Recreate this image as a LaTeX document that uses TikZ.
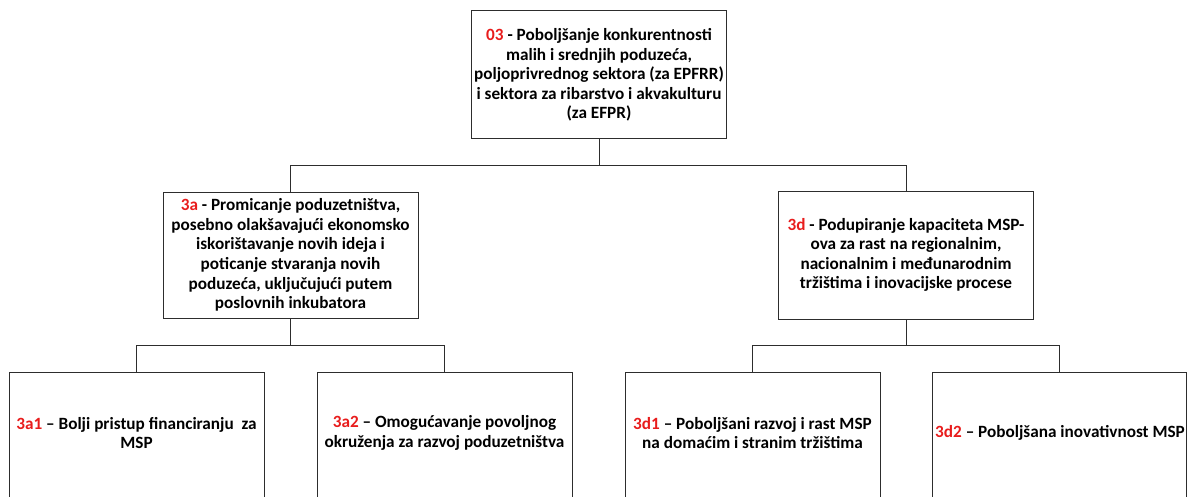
\documentclass[tikz,border=0pt]{standalone}
\usepackage{fontspec}
\setmainfont{Carlito}
\definecolor{codered}{RGB}{232,28,28}
\definecolor{lineclr}{RGB}{45,45,45}
\begin{document}
\begin{tikzpicture}[x=1pt,y=-1pt,
  box/.style={draw=lineclr, line width=1pt, rectangle, minimum width=255pt, inner sep=0pt},
  txt/.style={align=center, font=\bfseries\fontsize{17.2}{19.6}\selectfont, inner sep=0pt},
  conn/.style={draw=lineclr, line width=1pt}]
\useasboundingbox (0,0) rectangle (1188,496);
\clip (0,0) rectangle (1188,496);
% top
\node[box, minimum height=128pt] (top) at (599,74) {};
\node[txt] (toptxt) at (599,75) {\textcolor{codered}{03} - Poboljšanje konkurentnosti\\malih i srednjih poduzeća,\\poljoprivrednog sektora (za EPFRR)\\i sektora za ribarstvo i akvakulturu\\(za EFPR)};
% level 2
\node[box, minimum height=126pt] (a) at (290.5,255) {};
\node[txt] (atxt) at (290.5,255) {\textcolor{codered}{3a} - Promicanje poduzetništva,\\posebno olakšavajući ekonomsko\\iskorištavanje novih ideja i\\poticanje stvaranja novih\\poduzeća, uključujući putem\\poslovnih inkubatora};
\node[box, minimum height=128pt] (d) at (906,255) {};
\node[txt] (dtxt) at (906,255) {\textcolor{codered}{3d} - Podupiranje kapaciteta MSP-\\ova za rast na regionalnim,\\nacionalnim i međunarodnim\\tržištima i inovacijske procese};
% level 3
\node[box, minimum height=150pt, anchor=north] (a1) at (136.5,372) {};
\node[txt] (a1txt) at (136.5,433) {\textcolor{codered}{3a1} – Bolji pristup financiranju\ \ za\\MSP};
\node[box, minimum height=150pt, anchor=north] (a2) at (444.5,372) {};
\node[txt] (a2txt) at (444.5,433) {\textcolor{codered}{3a2} – Omogućavanje povoljnog\\okruženja za razvoj poduzetništva};
\node[box, minimum height=150pt, anchor=north] (d1) at (752.5,372) {};
\node[txt] (d1txt) at (752.5,433) {\textcolor{codered}{3d1} – Poboljšani razvoj i rast MSP\\na domaćim i stranim tržištima};
\node[box, minimum height=150pt, minimum width=254pt, anchor=north] (d2) at (1059,372) {};
\node[txt] (d2txt) at (1060,433) {\textcolor{codered}{3d2} – Poboljšana inovativnost MSP};
% connectors
\draw[conn] (top.south) -- (top.south |- 0,165) -| (a.north);
\draw[conn] (top.south |- 0,165) -| (d.north);
\draw[conn] (a.south) -- (a.south |- 0,345) -| (a1.north);
\draw[conn] (a.south |- 0,345) -| (a2.north);
\draw[conn] (d.south) -- (d.south |- 0,345) -| (d1.north);
\draw[conn] (d.south |- 0,345) -| (d2.north);
\end{tikzpicture}
\end{document}
